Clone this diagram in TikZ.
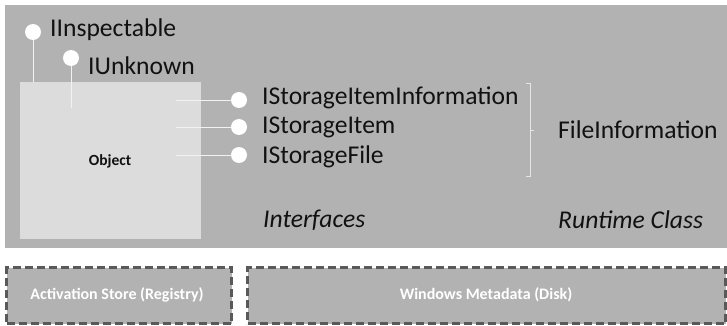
\documentclass[tikz,border=0pt]{standalone}
\usepackage{fontspec}
\setmainfont{Carlito}
\begin{document}
\begin{tikzpicture}[x=1pt,y=-1pt,
  ifc/.style={circle,fill=white,draw=none,minimum size=16pt,inner sep=0pt},
  lbl/.style={anchor=west,font=\fontsize{25.6}{28}\selectfont,text=textblack,inner sep=0pt},
  ital/.style={anchor=west,font=\fontsize{25.6}{28}\selectfont\itshape,text=textblack,inner sep=0pt},
  wire/.style={draw=wirewhite,line width=0.9pt},
  store/.style={fill=panelgray,draw=dashgray,line width=3pt,dash pattern=on 8pt off 4pt},
  storetext/.style={font=\fontsize{16}{18}\selectfont\bfseries,text=white}]
\definecolor{panelgray}{HTML}{B2B2B2}
\definecolor{objgray}{HTML}{DCDCDC}
\definecolor{textblack}{HTML}{111111}
\definecolor{wirewhite}{HTML}{F2F2F2}
\definecolor{dashgray}{HTML}{595959}
\definecolor{brgray}{HTML}{E6E6E6}
\useasboundingbox[fill=white] (0,0) rectangle (727,326);
% top panel
\fill[panelgray] (5,5) rectangle (727,248);
% object box
\node[fill=objgray,minimum width=181pt,minimum height=157pt,inner sep=0pt,anchor=north west] (obj) at (20,82) {};
\node[font=\fontsize{15.5}{17}\selectfont\bfseries,text=textblack] (objl) at (110,161) {Object};
% IInspectable
\node[ifc] (c1) at (33,32) {};
\coordinate (c1e) at (33,82);
\draw[wire] (c1) -- (c1e);
\node[lbl] (l1) at (50,30) {IInspectable};
% IUnknown
\node[ifc] (c2) at (71,58) {};
\coordinate (c2e) at (71,108);
\draw[wire] (c2) -- (c2e);
\node[lbl] (l2) at (88,66) {IUnknown};
% right interfaces
\node[ifc] (c3) at (239,100) {};
\node[ifc] (c4) at (239,127) {};
\node[ifc] (c5) at (239,155) {};
\coordinate (c3e) at (176,100);
\coordinate (c4e) at (176,127);
\coordinate (c5e) at (176,155);
\draw[wire] (c3e) -- (c3);
\draw[wire] (c4e) -- (c4);
\draw[wire] (c5e) -- (c5);
\node[lbl] (l3) at (262,98) {IStorageItemInformation};
\node[lbl] (l4) at (262,127) {IStorageItem};
\node[lbl] (l5) at (262,157) {IStorageFile};
% bracket
\coordinate (bt) at (526,83);
\coordinate (bb) at (526,176);
\coordinate (bm) at (534,130);
\draw[draw=brgray,line width=0.8pt] (bt) -- (530,83) -- (530,176) -- (bb);
\draw[draw=brgray,line width=0.8pt] (530,130) -- (bm);
\node[lbl] (rc) at (558,130) {FileInformation};
\node[ital] (it) at (263,220) {Interfaces};
\node[ital] (rt) at (558,220) {Runtime Class};
% stores
\node[store,minimum width=225pt,minimum height=56pt,inner sep=0pt,anchor=north west] (s1) at (5,266) {};
\node[storetext] (s1l) at (117,295) {Activation Store (Registry)};
\node[store,minimum width=478pt,minimum height=56pt,inner sep=0pt,anchor=north west] (s2) at (246,266) {};
\node[storetext] (s2l) at (486,295) {Windows Metadata (Disk)};
\end{tikzpicture}
\end{document}
